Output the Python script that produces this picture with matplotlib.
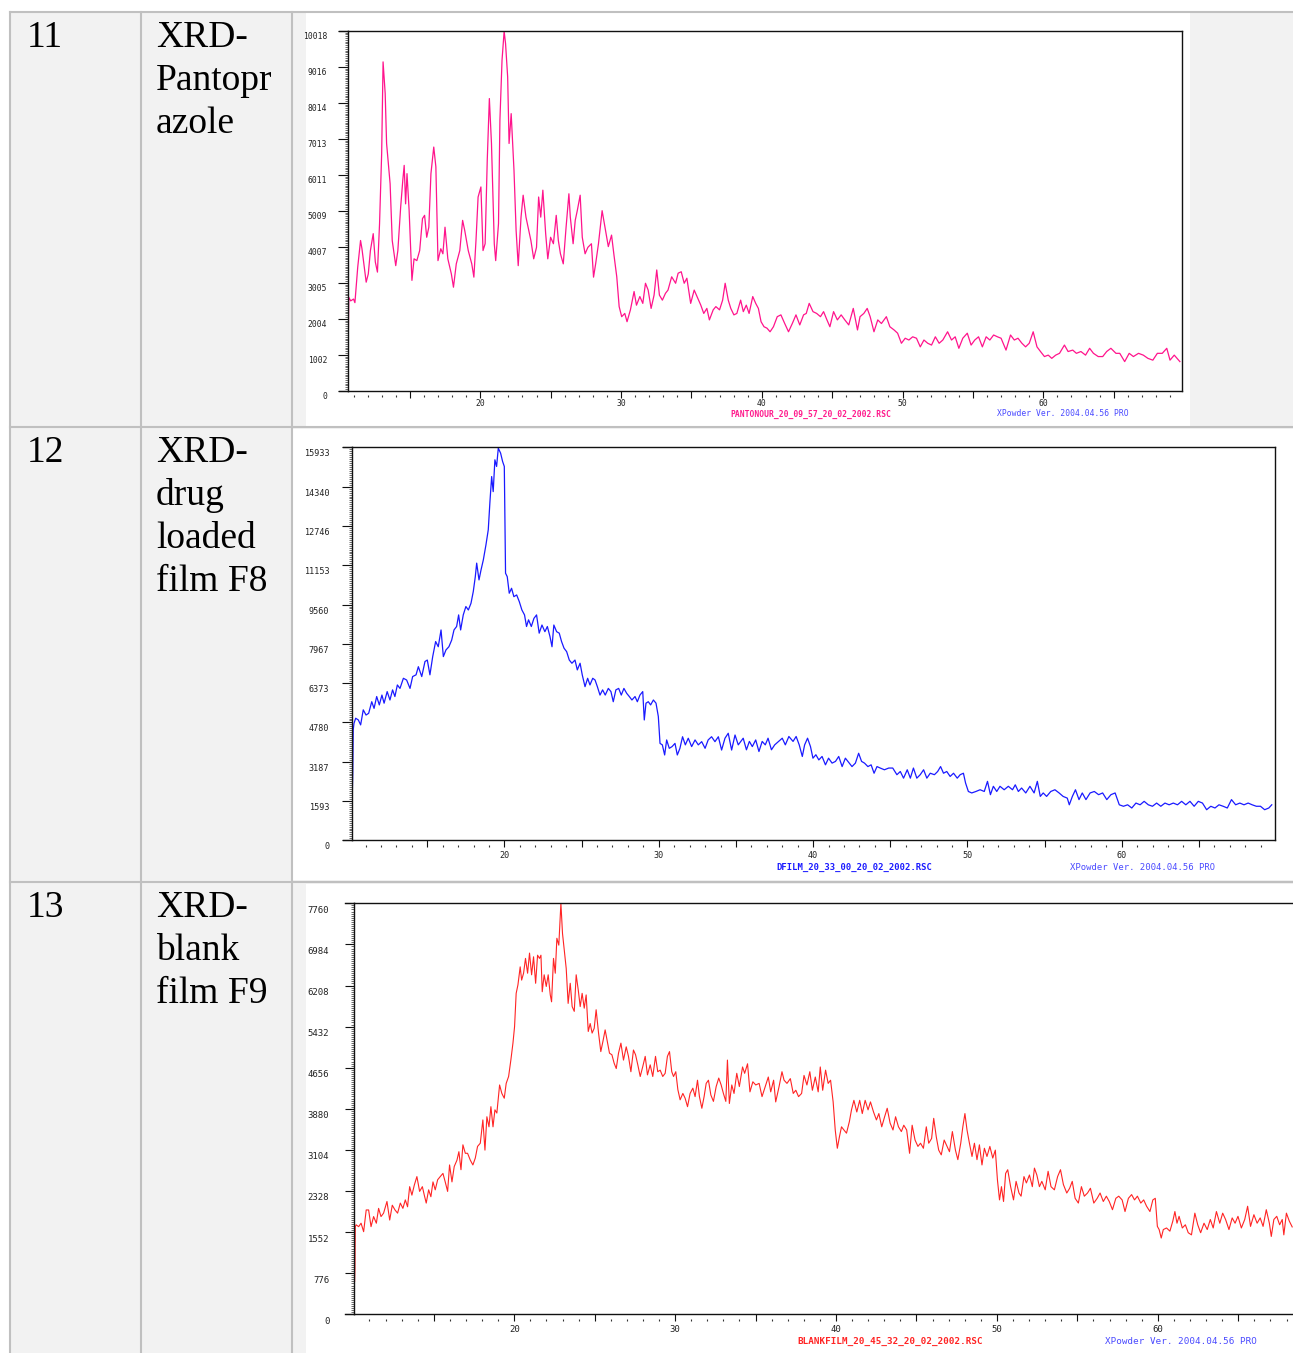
import numpy as np
import matplotlib
matplotlib.use('Agg')
import matplotlib.pyplot as plt
from matplotlib.patches import Rectangle
from matplotlib.lines import Line2D
from matplotlib import transforms as mtransforms
from matplotlib.ticker import FixedLocator, AutoMinorLocator, NullLocator

plt.rcParams['font.family'] = 'DejaVu Sans Mono'

# ---- table cells ----
row_numbers = ['11', '12', '13']
row_titles = [['XRD-', 'Pantopr', 'azole'],
              ['XRD-', 'drug', 'loaded', 'film F8'],
              ['XRD-', 'blank', 'film F9']]
file_names = ['PANTONOUR_20_09_57_20_02_2002.RSC',
              'DFILM_20_33_00_20_02_2002.RSC',
              'BLANKFILM_20_45_32_20_02_2002.RSC']
version_text = 'XPowder Ver. 2004.04.56 PRO'

# ---- XRD-Pantoprazole ----
pan_angle = [10.63, 10.66, 10.8, 11.0, 11.1, 11.3, 11.5, 11.6, 11.9, 12.05, 12.2, 12.4, 12.55, 12.7,
             12.85, 13.0, 13.1, 13.25, 13.35, 13.6, 13.75, 14.0, 14.15, 14.35, 14.5, 14.6, 14.7, 14.8,
             14.95, 15.15, 15.3, 15.5, 15.7, 15.9, 16.05, 16.2, 16.35, 16.5, 16.7, 16.85, 17.0, 17.2,
             17.35, 17.5, 17.7, 17.95, 18.1, 18.3, 18.55, 18.75, 18.9, 19.15, 19.4, 19.55, 19.7, 19.85,
             20.05, 20.2, 20.35, 20.5, 20.65, 20.8, 21.0, 21.1, 21.3, 21.4, 21.55, 21.7, 21.8, 21.95,
             22.05, 22.2, 22.4, 22.55, 22.7, 22.9, 23.05, 23.25, 23.4, 23.6, 23.8, 24.0, 24.15, 24.3,
             24.45, 24.65, 24.8, 25.0, 25.2, 25.4, 25.55, 25.7, 25.9, 26.1, 26.3, 26.4, 26.6, 26.75,
             26.9, 27.1, 27.25, 27.45, 27.65, 27.9, 28.05, 28.2, 28.4, 28.66, 28.9, 29.1, 29.33, 29.5,
             29.7, 29.87, 30.05, 30.27, 30.43, 30.67, 30.93, 31.1, 31.34, 31.55, 31.74, 31.93, 32.14,
             32.35, 32.54, 32.73, 32.94, 33.16, 33.34, 33.6, 33.88, 34.06, 34.28, 34.49, 34.68, 34.95,
             35.2, 35.4, 35.67, 35.88, 36.1, 36.28, 36.55, 36.74, 37.0, 37.22, 37.4, 37.62, 37.8, 38.02,
             38.23, 38.5, 38.69, 38.9, 39.1, 39.36, 39.57, 39.76, 39.95, 40.16, 40.37, 40.59, 40.83,
             41.1, 41.36, 41.63, 41.9, 42.17, 42.43, 42.7, 42.97, 43.16, 43.37, 43.64, 43.9, 44.17,
             44.39, 44.63, 44.84, 45.1, 45.37, 45.64, 45.9, 46.18, 46.5, 46.8, 46.98, 47.25, 47.49,
             47.7, 47.97, 48.24, 48.5, 48.85, 49.1, 49.4, 49.65, 49.92, 50.19, 50.45, 50.72, 50.99,
             51.26, 51.52, 51.79, 52.06, 52.33, 52.6, 52.86, 53.2, 53.48, 53.74, 54.0, 54.28, 54.6,
             54.87, 55.13, 55.4, 55.67, 55.94, 56.2, 56.47, 56.74, 57.0, 57.35, 57.67, 57.94, 58.2,
             58.48, 58.74, 59.0, 59.28, 59.55, 59.8, 60.08, 60.35, 60.6, 60.88, 61.15, 61.5, 61.76,
             62.09, 62.35, 62.67, 63.0, 63.29, 63.56, 63.9, 64.22, 64.5, 64.8, 65.16, 65.43, 65.78,
             66.1, 66.4, 66.76, 67.1, 67.43, 67.78, 68.1, 68.45, 68.77, 69.0, 69.3, 69.7]
pan_counts = [1490, 2600, 2500, 2550, 2450, 3440, 4180, 3950, 3020, 3250, 3900, 4370, 3580, 3300,
              4650, 6600, 9150, 8270, 6880, 5760, 4180, 3480, 3900, 5110, 5850, 6270, 5200, 6040,
              5020, 3070, 3670, 3620, 3900, 4790, 4880, 4270, 4550, 6040, 6780, 6230, 3620, 3950,
              3810, 4550, 3670, 3250, 2880, 3530, 3900, 4740, 4460, 3900, 3530, 3160, 4180, 5390,
              5670, 3900, 4090, 6410, 8130, 6880, 4090, 3620, 4650, 7530, 9200, 10000, 9660, 8730,
              6880, 7710, 6130, 4460, 3480, 4830, 5440, 4830, 4550, 4180, 3670, 3990, 5390, 4830,
              5580, 4370, 3670, 4270, 4090, 4880, 4180, 3810, 3530, 4550, 5480, 4830, 4090, 4740,
              5020, 5440, 4270, 3810, 3990, 4090, 3160, 3530, 4090, 5010, 4470, 4010, 4330, 3780,
              3170, 2340, 2060, 2150, 1920, 2250, 2760, 2380, 2620, 2430, 2990, 2800, 2290,
              2660, 3360, 2660, 2520, 2710, 2800, 3170, 2990, 3270, 3310, 2990, 3130, 2430,
              2800, 2620, 2380, 2150, 2290, 1970, 2250, 2340, 2250, 2520, 2990, 2520, 2290, 2110,
              2150, 2520, 2200, 2380, 2150, 2620, 2430, 2290, 1920, 1780, 1740, 1640, 1780,
              2060, 2110, 1870, 1640, 1870, 2110, 1830, 2110, 2150, 2430, 2200, 2150, 2060,
              2200, 1970, 1780, 2200, 1970, 2110, 1970, 1830, 2290, 1690, 2060, 2150, 2290,
              2060, 1640, 1970, 1870, 2060, 1780, 1690, 1600, 1320, 1460, 1410, 1500, 1460,
              1220, 1410, 1320, 1270, 1500, 1320, 1410, 1640, 1410, 1500, 1180, 1460, 1600,
              1270, 1410, 1500, 1220, 1500, 1410, 1550, 1500, 1460, 1130, 1550, 1410, 1460,
              1320, 1220, 1320, 1640, 1220, 1090, 950, 990, 900, 990, 1040, 1270, 1090,
              1130, 1040, 1090, 990, 1180, 1040, 950, 950, 1090, 1180, 1040, 1040, 810,
              1040, 950, 1040, 990, 900, 850, 1040, 1040, 1180, 850, 990, 810]

# ---- XRD-drug loaded film F8 ----
f8_angle = [10.14, 10.17, 10.2, 10.25, 10.36, 10.53, 10.68, 10.85, 11.03, 11.2, 11.4, 11.55, 11.72,
            11.89, 12.06, 12.2, 12.4, 12.58, 12.75, 12.9, 13.06, 13.23, 13.45, 13.66, 13.88, 14.05,
            14.27, 14.42, 14.64, 14.85, 15.0, 15.17, 15.35, 15.54, 15.71, 15.89, 16.04, 16.21, 16.4,
            16.58, 16.73, 16.9, 17.03, 17.16, 17.33, 17.5, 17.66, 17.83, 17.98, 18.11, 18.2, 18.35,
            18.48, 18.63, 18.8, 18.95, 19.06, 19.17, 19.27, 19.38, 19.49, 19.6, 19.75, 19.88, 19.99,
            20.07, 20.18, 20.31, 20.46, 20.61, 20.79, 20.96, 21.13, 21.3, 21.43, 21.56, 21.74, 21.91,
            22.08, 22.25, 22.43, 22.62, 22.78, 22.95, 23.08, 23.2, 23.38, 23.55, 23.7, 23.86, 24.03,
            24.2, 24.37, 24.57, 24.72, 24.9, 25.04, 25.22, 25.39, 25.54, 25.72, 25.87, 26.02, 26.19,
            26.36, 26.53, 26.73, 26.9, 27.05, 27.22, 27.4, 27.57, 27.74, 27.92, 28.09, 28.26, 28.46,
            28.61, 28.78, 28.96, 29.06, 29.17, 29.32, 29.47, 29.65, 29.82, 29.97, 30.08, 30.23, 30.38,
            30.51, 30.68, 30.86, 31.05, 31.2, 31.37, 31.54, 31.72, 31.91, 32.13, 32.35, 32.56, 32.78,
            33.0, 33.2, 33.42, 33.64, 33.86, 34.07, 34.29, 34.5, 34.72, 34.94, 35.15, 35.47, 35.68,
            35.87, 36.06, 36.28, 36.49, 36.7, 36.9, 37.08, 37.3, 37.51, 37.76, 38.0, 38.2, 38.43,
            38.7, 38.9, 39.1, 39.3, 39.45, 39.64, 39.83, 39.99, 40.18, 40.37, 40.58, 40.8, 41.0,
            41.23, 41.45, 41.66, 41.88, 42.09, 42.34, 42.52, 42.74, 42.95, 43.14, 43.33, 43.55,
            43.76, 43.95, 44.14, 44.35, 44.62, 44.9, 45.16, 45.43, 45.65, 45.86, 46.1, 46.3, 46.5,
            46.72, 46.94, 47.16, 47.37, 47.59, 47.86, 48.07, 48.26, 48.45, 48.66, 48.88, 49.1,
            49.34, 49.53, 49.74, 49.88, 50.06, 50.28, 50.55, 50.82, 51.09, 51.3, 51.49, 51.68,
            51.9, 52.11, 52.38, 52.65, 52.92, 53.1, 53.3, 53.51, 53.78, 54.05, 54.32, 54.53,
            54.72, 54.91, 55.13, 55.4, 55.67, 55.94, 56.2, 56.47, 56.6, 56.8, 57.0, 57.23, 57.44,
            57.68, 57.95, 58.22, 58.5, 58.76, 59.03, 59.3, 59.57, 59.84, 60.11, 60.38, 60.65,
            60.92, 61.19, 61.45, 61.72, 61.99, 62.26, 62.53, 62.8, 63.07, 63.34, 63.61, 63.88,
            64.15, 64.42, 64.69, 64.96, 65.23, 65.5, 65.77, 66.04, 66.3, 66.57, 66.84, 67.11,
            67.38, 67.65, 67.92, 68.19, 68.45, 68.72, 68.99, 69.26, 69.53, 69.72]
f8_counts = [1900, 2720, 4480, 4745, 4950, 4880, 4680, 5290, 5080, 5150, 5620, 5350, 5830,
             5490, 5890, 5560, 6030, 5690, 6100, 5830, 6300, 6160, 6570, 6500, 6160, 6640,
             6710, 7040, 6640, 7250, 7310, 6710, 7450, 8060, 7850, 8530, 7450, 7720, 7850,
             8120, 8530, 8670, 9140, 8530, 9140, 9480, 9340, 9610, 10090, 10690, 11240, 10560,
             10960, 11370, 11980, 12590, 13740, 14750, 14140, 15430, 15160, 15900, 15700, 15360, 15160,
             10830, 10690, 10020, 10220, 9880, 9950, 9680, 9340, 9140, 8670, 8940, 8670, 9000,
             9140, 8400, 8730, 8460, 8670, 8260, 7850, 8730, 8460, 8400, 8060, 7790, 7650,
             7310, 7180, 7310, 6910, 7180, 6710, 6230, 6570, 6300, 6570, 6500, 6230, 5890,
             6100, 5890, 6160, 6030, 5620, 6100, 6160, 5890, 6160, 5960, 5830, 5690, 5830,
             5620, 5890, 6030, 4880, 5560, 5620, 5490, 5690, 5560, 5020, 3930, 3870, 3460,
             4070, 3730, 3800, 3930, 3460, 3730, 4200, 3870, 4140, 3800, 4070, 3870, 4000,
             3730, 4070, 4200, 4000, 4200, 3660, 4140, 4340, 3660, 4270, 3870, 4140, 3670,
             4010, 3800, 4070, 3600, 4010, 3870, 4140, 3670, 3870, 4010, 4140, 3870, 4210,
             4010, 4210, 3870, 3400, 3870, 4140, 3800, 3330, 3470, 3260, 3400, 3060, 3330,
             3130, 3200, 3400, 2990, 3330, 3130, 2990, 3130, 3530, 3200, 3130, 2990,
             3060, 2720, 2990, 2930, 2860, 2930, 2930, 2660, 2790, 2520, 2860, 2520, 2930,
             2520, 2660, 2860, 2520, 2720, 2660, 2790, 2990, 2720, 2790, 2590, 2720,
             2520, 2660, 2720, 2320, 1980, 1920, 1980, 2050, 1980, 2390, 1850, 2190,
             1980, 2190, 2050, 2190, 2050, 2250, 1980, 2120, 1920, 2190, 1920, 2390,
             1780, 1920, 1780, 1980, 2050, 1920, 1780, 1710, 1440, 1780, 2050, 1650, 1920,
             1650, 1920, 1980, 1850, 1920, 1650, 1850, 1920, 1440, 1380, 1440, 1310,
             1510, 1440, 1580, 1440, 1380, 1510, 1380, 1510, 1440, 1510, 1440, 1580,
             1440, 1580, 1380, 1580, 1510, 1240, 1380, 1310, 1440, 1380, 1310, 1650,
             1440, 1510, 1440, 1510, 1440, 1380, 1380, 1240, 1310, 1440]

# ---- XRD-blank film F9 ----
f9_angle = [10.08, 10.1, 10.12, 10.17, 10.33, 10.48, 10.64, 10.8, 10.95, 11.1, 11.26, 11.43, 11.57,
            11.72, 11.88, 12.09, 12.26, 12.42, 12.59, 12.75, 12.92, 13.08, 13.23, 13.37, 13.5, 13.64,
            13.79, 13.95, 14.12, 14.29, 14.41, 14.53, 14.68, 14.82, 14.95, 15.09, 15.24, 15.4, 15.57,
            15.71, 15.86, 15.98, 16.13, 16.27, 16.44, 16.56, 16.69, 16.81, 16.96, 17.1, 17.27, 17.43,
            17.58, 17.72, 17.89, 18.05, 18.18, 18.3, 18.43, 18.55, 18.68, 18.8, 18.92, 19.09, 19.23,
            19.38, 19.5, 19.65, 19.79, 19.92, 20.02, 20.12, 20.23, 20.37, 20.46, 20.58, 20.7, 20.83,
            20.95, 21.08, 21.2, 21.33, 21.45, 21.57, 21.66, 21.74, 21.86, 21.99, 22.11, 22.24, 22.32,
            22.44, 22.55, 22.65, 22.77, 22.9, 23.0, 23.11, 23.23, 23.35, 23.48, 23.6, 23.73, 23.85,
            23.98, 24.1, 24.22, 24.35, 24.47, 24.6, 24.72, 24.84, 24.97, 25.09, 25.24, 25.38, 25.51,
            25.65, 25.8, 25.92, 26.07, 26.21, 26.34, 26.48, 26.63, 26.79, 26.96, 27.1, 27.25, 27.41,
            27.54, 27.68, 27.83, 27.99, 28.14, 28.28, 28.45, 28.61, 28.78, 28.92, 29.07, 29.23, 29.38,
            29.52, 29.65, 29.79, 29.9, 30.04, 30.17, 30.31, 30.48, 30.62, 30.77, 30.93, 31.1, 31.24,
            31.39, 31.51, 31.66, 31.8, 31.93, 32.07, 32.22, 32.38, 32.55, 32.71, 32.86, 33.0, 33.15,
            33.25, 33.37, 33.52, 33.66, 33.83, 33.99, 34.19, 34.32, 34.5, 34.65, 34.83, 35.01, 35.22,
            35.4, 35.6, 35.79, 35.94, 36.12, 36.25, 36.46, 36.64, 36.77, 36.95, 37.16, 37.34, 37.5,
            37.67, 37.86, 38.01, 38.19, 38.37, 38.53, 38.71, 38.89, 39.02, 39.17, 39.35, 39.51, 39.66,
            39.82, 39.95, 40.08, 40.21, 40.34, 40.49, 40.65, 40.83, 40.96, 41.11, 41.29, 41.47, 41.63,
            41.81, 41.99, 42.14, 42.33, 42.51, 42.66, 42.84, 43.02, 43.18, 43.36, 43.54, 43.7, 43.88,
            44.06, 44.21, 44.39, 44.57, 44.73, 44.91, 45.09, 45.25, 45.43, 45.61, 45.76, 45.94, 46.07,
            46.23, 46.38, 46.54, 46.72, 46.9, 47.05, 47.23, 47.42, 47.57, 47.75, 47.88, 48.01, 48.14,
            48.29, 48.45, 48.6, 48.76, 48.91, 49.07, 49.22, 49.38, 49.56, 49.74, 49.9, 50.03, 50.16,
            50.28, 50.41, 50.54, 50.67, 50.85, 51.03, 51.19, 51.37, 51.5, 51.68, 51.83, 52.02, 52.2,
            52.33, 52.48, 52.64, 52.79, 53.0, 53.18, 53.36, 53.57, 53.77, 53.95, 54.13, 54.34, 54.52,
            54.68, 54.86, 55.06, 55.25, 55.43, 55.63, 55.81, 56.02, 56.23, 56.41, 56.61, 56.8, 56.98,
            57.18, 57.39, 57.57, 57.78, 57.96, 58.17, 58.37, 58.55, 58.73, 58.94, 59.12, 59.3, 59.51,
            59.69, 59.84, 59.97, 60.08, 60.21, 60.34, 60.54, 60.75, 60.93, 61.06, 61.19, 61.32, 61.52,
            61.71, 61.89, 62.09, 62.3, 62.48, 62.66, 62.87, 63.07, 63.26, 63.44, 63.64, 63.85, 64.03,
            64.21, 64.42, 64.62, 64.8, 64.98, 65.19, 65.4, 65.58, 65.76, 65.97, 66.17, 66.36, 66.54,
            66.74, 66.93, 67.05, 67.21, 67.39, 67.57, 67.73, 67.83, 67.99, 68.17, 68.35]
f9_counts = [620, 870, 1650, 1690, 1655, 1720, 1560, 1970, 1970, 1655, 1845, 1720, 2000,
             1845, 1910, 2130, 1780, 2060, 1970, 1910, 2100, 2000, 2160, 2030, 2410, 2250,
             2440, 2600, 2320, 2410, 2250, 2100, 2350, 2220, 2500, 2350, 2540, 2600, 2660,
             2500, 2320, 2820, 2500, 2790, 2910, 3070, 2730, 3200, 3040, 3040, 2910, 2820,
             2950, 3170, 3230, 3670, 3100, 3730, 3540, 3920, 3540, 3860, 3800, 4330, 4170,
             4080, 4360, 4490, 4800, 5120, 5430, 6060, 6220, 6560, 6310, 6440, 6720, 6440,
             6820, 6410, 6750, 6250, 6780, 6720, 6780, 6090, 6410, 6190, 6410, 6030, 5900,
             6720, 6440, 7100, 6970, 7760, 7190, 6880, 6530, 5870, 6250, 5810, 5720, 6410,
             6120, 5810, 6060, 5780, 6030, 5340, 5490, 5310, 5400, 5750, 5310, 4960, 5150,
             5370, 5120, 4930, 4900, 4740, 4640, 4930, 5120, 4800, 5050, 4870, 4580, 4990,
             4900, 4710, 4490, 4680, 4870, 4520, 4710, 4490, 4870, 4580, 4610, 4490, 4550,
             4870, 4960, 4580, 4490, 4580, 4240, 4050, 4170, 4080, 3920, 4170, 4270, 4110,
             4420, 4110, 3890, 4110, 4360, 4420, 4140, 4020, 4300, 4460, 4330, 4170, 4020,
             4800, 3980, 4330, 4170, 4550, 4300, 4670, 4550, 4730, 4200, 4390, 4330, 4360,
             4110, 4300, 4480, 4200, 4420, 4010, 4300, 4580, 4420, 4360, 4450, 4170, 4230,
             4110, 4170, 4510, 4330, 4580, 4230, 4480, 4200, 4670, 4230, 4610, 4360, 4420,
             4010, 3480, 3135, 3350, 3540, 3480, 3420, 3640, 3860, 4040, 3820, 4040, 3790,
             4040, 3860, 4010, 3820, 3670, 3790, 3540, 3730, 3890, 3610, 3480, 3730, 3540,
             3450, 3570, 3480, 3040, 3570, 3290, 3170, 3230, 3135, 3540, 3230, 3320, 3700,
             3350, 3100, 3010, 3290, 3170, 3070, 3450, 3100, 2920, 3230, 3540, 3790, 3480,
             3230, 2980, 3230, 2920, 3200, 2820, 3135, 2980, 3170, 2950, 3100, 2540, 2160,
             2410, 2130, 2660, 2730, 2410, 2160, 2510, 2290, 2230, 2600, 2480, 2630, 2410,
             2760, 2630, 2410, 2510, 2350, 2700, 2410, 2350, 2600, 2730, 2450, 2290, 2380,
             2510, 2190, 2100, 2410, 2230, 2290, 2380, 2100, 2190, 2290, 2130, 2230, 2130,
             1975, 2190, 2230, 2160, 1940, 2190, 2260, 2160, 2230, 2100, 2160, 2040, 1940,
             2160, 2190, 1660, 1600, 1440, 1600, 1630, 1570, 1760, 1940, 1720, 1850, 1630,
             1690, 1540, 1500, 1910, 1690, 1540, 1720, 1600, 1790, 1630, 1940, 1720, 1910,
             1790, 1600, 1820, 1720, 1850, 1630, 1790, 2040, 1660, 1880, 1720, 1820, 1660,
             1975, 1720, 1470, 1790, 1850, 1690, 1790, 1500, 1910, 1760, 1650]

W, H = 1293, 1353
fig = plt.figure(figsize=(W / 100, H / 100), dpi=100)
fig.patch.set_facecolor('white')


def fx(x):
    return x / W


def fy(y):
    return 1 - y / H


def rect(x0, y0, x1, y1, color, z):
    fig.add_artist(Rectangle((fx(x0), fy(y1)), (x1 - x0) / W, (y1 - y0) / H,
                             transform=fig.transFigure, facecolor=color, edgecolor='none', zorder=z))


def hline(x0, x1, y, color, lw, z):
    fig.add_artist(Line2D([fx(x0), fx(x1)], [fy(y), fy(y)], transform=fig.transFigure,
                          color=color, lw=lw, zorder=z))


def vline(x, y0, y1, color, lw, z):
    fig.add_artist(Line2D([fx(x), fx(x)], [fy(y0), fy(y1)], transform=fig.transFigure,
                          color=color, lw=lw, zorder=z))


# table background and chart images
rect(10, 12, W, H, '#f2f2f2', -10)
rect(306, 13, 1190, 426, 'white', -9)
rect(293, 429, W, 880, 'white', -9)
rect(306, 884, W, H, 'white', -9)
grid_c = '#c0c0c0'
for y in (12, 427, 882):
    hline(10, W, y, grid_c, 1.5, -8)
for x in (10, 141, 292):
    vline(x, 12, H, grid_c, 1.5, -8)

# table text
baselines = [47, 462, 917]
for num, title, base in zip(row_numbers, row_titles, baselines):
    fig.text(fx(27), fy(base), num, family='Liberation Serif', fontsize=27, va='baseline')
    for i, line in enumerate(title):
        fig.text(fx(156), fy(base + 43 * i), line, family='Liberation Serif', fontsize=27,
                 va='baseline')


def xrd_panel(angle, counts, color, left, top, right, bottom, xlim, ymax, frame_x0, fs,
              ytick_len, ylab_dx, ylab_dy, xlab_dy, right_spine=True, lw=0.9):
    ax = fig.add_axes([fx(left), fy(bottom), (right - left) / W, (bottom - top) / H])
    ax.patch.set_visible(False)
    ax.set_xlim(xlim)
    ax.set_ylim(0, ymax)
    ax.plot(angle, counts, color=color, lw=lw)
    for s in ax.spines.values():
        s.set_linewidth(1.0)
        s.set_color('#111111')
    ax.spines['right'].set_visible(right_spine)

    yt = [ymax * i / 10 for i in range(11)]
    ax.yaxis.set_major_locator(FixedLocator(yt))
    ax.yaxis.set_minor_locator(AutoMinorLocator(20))
    ax.tick_params(axis='y', which='major', direction='out', length=ytick_len, width=0.8,
                   color='#111111', labelleft=False)
    ax.tick_params(axis='y', which='minor', direction='out', length=2.2, width=0.5,
                   color='#333333')
    majors = [v for v in range(15, 70, 5) if xlim[0] < v < xlim[1]]
    ax.xaxis.set_major_locator(FixedLocator(majors))
    ax.xaxis.set_minor_locator(NullLocator())
    ax.tick_params(axis='x', which='major', direction='out', length=5, width=0.8,
                   color='#111111', labelbottom=False)

    ytr = mtransforms.offset_copy(ax.get_yaxis_transform(), fig=fig, x=-ylab_dx, y=-ylab_dy,
                                  units='dots')
    for v in yt:
        ax.text(0, v, str(int(v + 0.5)), transform=ytr, ha='right', va='center', fontsize=fs,
                color='#222222')
    xtr = mtransforms.offset_copy(ax.get_xaxis_transform(), fig=fig, y=-xlab_dy, units='dots')
    for v in majors:
        if v % 10 == 0:
            ax.text(v, 0, str(v), transform=xtr, ha='center', va='center', fontsize=fs,
                    color='#222222')
    dots = [v for v in range(int(np.ceil(xlim[0])), int(xlim[1]) + 1) if v % 5]
    dtr = mtransforms.offset_copy(ax.get_xaxis_transform(), fig=fig, y=-5.5, units='dots')
    ax.plot(dots, [0] * len(dots), transform=dtr, ls='none', marker='|', ms=2.0, mew=0.8,
            color='#333333', clip_on=False)
    for y in (top, bottom):
        hline(frame_x0, left, y, '#111111', 1.0, 5)
    return ax


xrd_panel(pan_angle, pan_counts, '#ff148c', 348.3, 30.7, 1181.7, 390.7, (10.63, 69.83), 10018,
          339, 5.8, 7.0, 21, 6, 13.3)
fig.text(fx(811), fy(414), file_names[0], color='#ff1a8c', fontsize=5.8, weight='bold',
         ha='center', va='center')
fig.text(fx(1063), fy(414), version_text, color='#4a4aff', fontsize=5.8, ha='center', va='center')

xrd_panel(f8_angle, f8_counts, '#1a1aff', 352.3, 447.4, 1275, 840.3, (10.14, 69.93), 15933,
          342.7, 6.1, 7.0, 23, 6.5, 15.4)
fig.text(fx(854), fy(867), file_names[1], color='#1a1aff', fontsize=6.4, weight='bold',
         ha='center', va='center')
fig.text(fx(1143), fy(867), version_text, color='#4a4aff', fontsize=6.4, ha='center', va='center')

xrd_panel(f9_angle, f9_counts, '#ff2424', 354.3, 903.3, W, 1314.3, (10.06, 68.4), 7760,
          345, 6.5, 6.7, 25, 7, 15, right_spine=False, lw=0.8)
fig.text(fx(890), fy(1341), file_names[2], color='#ff2424', fontsize=6.7, weight='bold',
         ha='center', va='center')
fig.text(fx(1181), fy(1341), version_text, color='#4a4aff', fontsize=6.7, ha='center', va='center')

fig.savefig('out.png', dpi=100)
